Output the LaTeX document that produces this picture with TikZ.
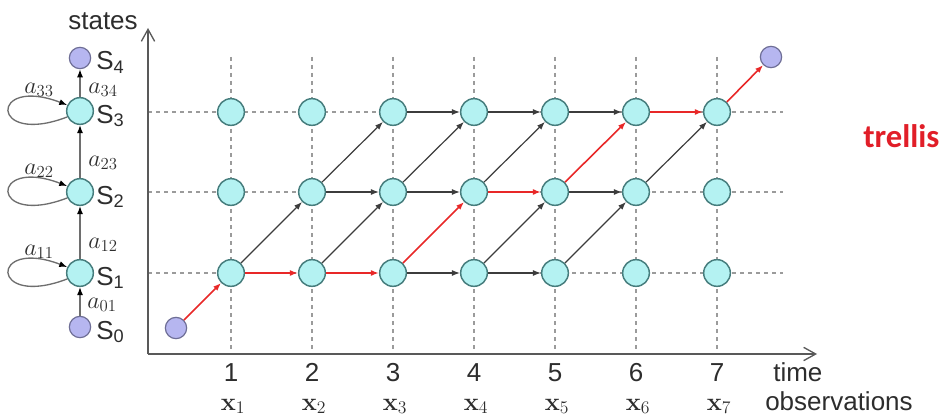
\RequirePackage{fix-cm}
\documentclass[tikz,border=0pt]{standalone}
\usepackage[no-math]{fontspec}
\setmainfont{Liberation Sans}
\newfontfamily\trellisfont{Carlito}
\usetikzlibrary{arrows.meta}
\definecolor{cyanfill}{RGB}{180,242,242}
\definecolor{cyanedge}{RGB}{70,125,125}
\definecolor{purpfill}{RGB}{182,182,240}
\definecolor{purpedge}{RGB}{110,110,150}
\definecolor{gridgray}{RGB}{155,155,155}
\definecolor{edgegray}{RGB}{60,60,60}
\definecolor{loopgray}{RGB}{110,110,110}
\definecolor{redpath}{RGB}{232,40,40}
\definecolor{txt}{RGB}{45,45,45}
\definecolor{trelred}{RGB}{225,30,40}
\begin{document}
\begin{tikzpicture}[x=0.75pt,y=-0.75pt,
 st/.style={circle,draw=cyanedge,fill=cyanfill,line width=1.1pt,minimum size=20pt,inner sep=0pt},
 ep/.style={circle,draw=purpedge,fill=purpfill,line width=0.9pt,minimum size=16pt,inner sep=0pt},
 gridln/.style={draw=gridgray,line width=1.1pt,dash pattern=on 3pt off 3pt},
 axis/.style={draw=black!65,line width=1.1pt,-{Straight Barb[length=9pt,width=10pt,line width=1pt]}},
 tr/.style={draw=edgegray,line width=0.9pt,-{Latex[length=6pt,width=4.5pt]}},
 rd/.style={draw=redpath,line width=1.2pt,-{Latex[length=6pt,width=4.5pt]}},
 lv/.style={draw=loopgray,line width=1pt,-{Latex[length=6pt,width=4.5pt,color=black]}},
 lbl/.style={font=\fontsize{19.5}{22}\selectfont,text=txt,inner sep=0pt},
 albl/.style={font=\fontsize{18}{20}\selectfont,text=txt,inner sep=0pt},
 xlbl/.style={font=\fontsize{19}{21}\selectfont,text=txt,inner sep=0pt,anchor=base}
]
\useasboundingbox (0,0) rectangle (944,417);

% grid
\foreach \c in {1,...,7} {
  \pgfmathsetmacro{\xx}{231+81*(\c-1)}
  \draw[gridln] (\xx,57) -- (\xx,353);
}
\foreach \yy in {112,192,273} {
  \draw[gridln] (148,\yy) -- (783,\yy);
}

% axes
\coordinate (O) at (148,354);
\coordinate (ytop) at (148,28);
\coordinate (xend) at (817,354);
\draw[axis] (O) -- (ytop);
\draw[axis] (O) -- (xend);

% trellis nodes
\foreach \c in {1,...,7} {
  \pgfmathsetmacro{\xx}{231+81*(\c-1)}
  \node[st] (t\c1) at (\xx,273) {};
  \node[st] (t\c2) at (\xx,192) {};
  \node[st] (t\c3) at (\xx,112) {};
}
\node[ep] (ts) at (176,328) {};
\node[ep] (te) at (771,57) {};

% black edges
\foreach \a/\b in {11/22,21/32,22/33,22/32,33/43,32/43,32/42,31/41,43/53,42/53,41/52,41/51,53/63,52/62,51/62,62/73} {
  \draw[tr] (t\a) -- (t\b);
}
% red path
\draw[rd] (ts) -- (t11);
\foreach \a/\b in {11/21,21/31,31/42,42/52,52/63,63/73} {
  \draw[rd] (t\a) -- (t\b);
}
\draw[rd] (t73) -- (te);

% left state diagram
\node[ep] (L0) at (80,327) {};
\node[st] (L1) at (80,273) {};
\node[st] (L2) at (80,192) {};
\node[st] (L3) at (80,111) {};
\node[ep] (L4) at (80,58) {};
\draw[lv] (L0) -- (L1);
\draw[lv] (L1) -- (L2);
\draw[lv] (L2) -- (L3);
\draw[lv] (L3) -- (L4);
\foreach \n in {1,2,3} {
  \draw[lv] (L\n.205) .. controls +(-78,30) and +(-78,-30) .. (L\n.155);
}

\node[lbl,anchor=base west] (s4) at (96,70) {S\textsubscript{4}};
\node[lbl,anchor=base west] (s3) at (96,123) {S\textsubscript{3}};
\node[lbl,anchor=base west] (s2) at (96,204) {S\textsubscript{2}};
\node[lbl,anchor=base west] (s1) at (96,285) {S\textsubscript{1}};
\node[lbl,anchor=base west] (s0) at (96,339) {S\textsubscript{0}};

\node[albl] (a34) at (103,90) {$a_{34}$};
\node[albl] (a23) at (103,163) {$a_{23}$};
\node[albl] (a12) at (103,245) {$a_{12}$};
\node[albl] (a01) at (102,305) {$a_{01}$};
\node[albl] (a33) at (39,90) {$a_{33}$};
\node[albl] (a22) at (39,171) {$a_{22}$};
\node[albl] (a11) at (39,252) {$a_{11}$};

\node[lbl,anchor=base] (states) at (103,30) {states};

% axis labels
\foreach \c in {1,...,7} {
  \pgfmathsetmacro{\xx}{231+81*(\c-1)}
  \node[lbl,anchor=base] (n\c) at (\xx,381) {\c};
  \node[xlbl] (x\c) at (\xx+2,410) {$\mathbf{x}_{\c}$};
}
\node[lbl,anchor=base west] (time) at (773,381) {time};
\node[lbl,anchor=base west] (obs) at (765,410) {observations};

\node[anchor=base west,inner sep=0pt,text=trelred,font=\trellisfont\bfseries\fontsize{24.5}{26}\selectfont] (trel) at (863,147) {trellis};
\end{tikzpicture}
\end{document}
